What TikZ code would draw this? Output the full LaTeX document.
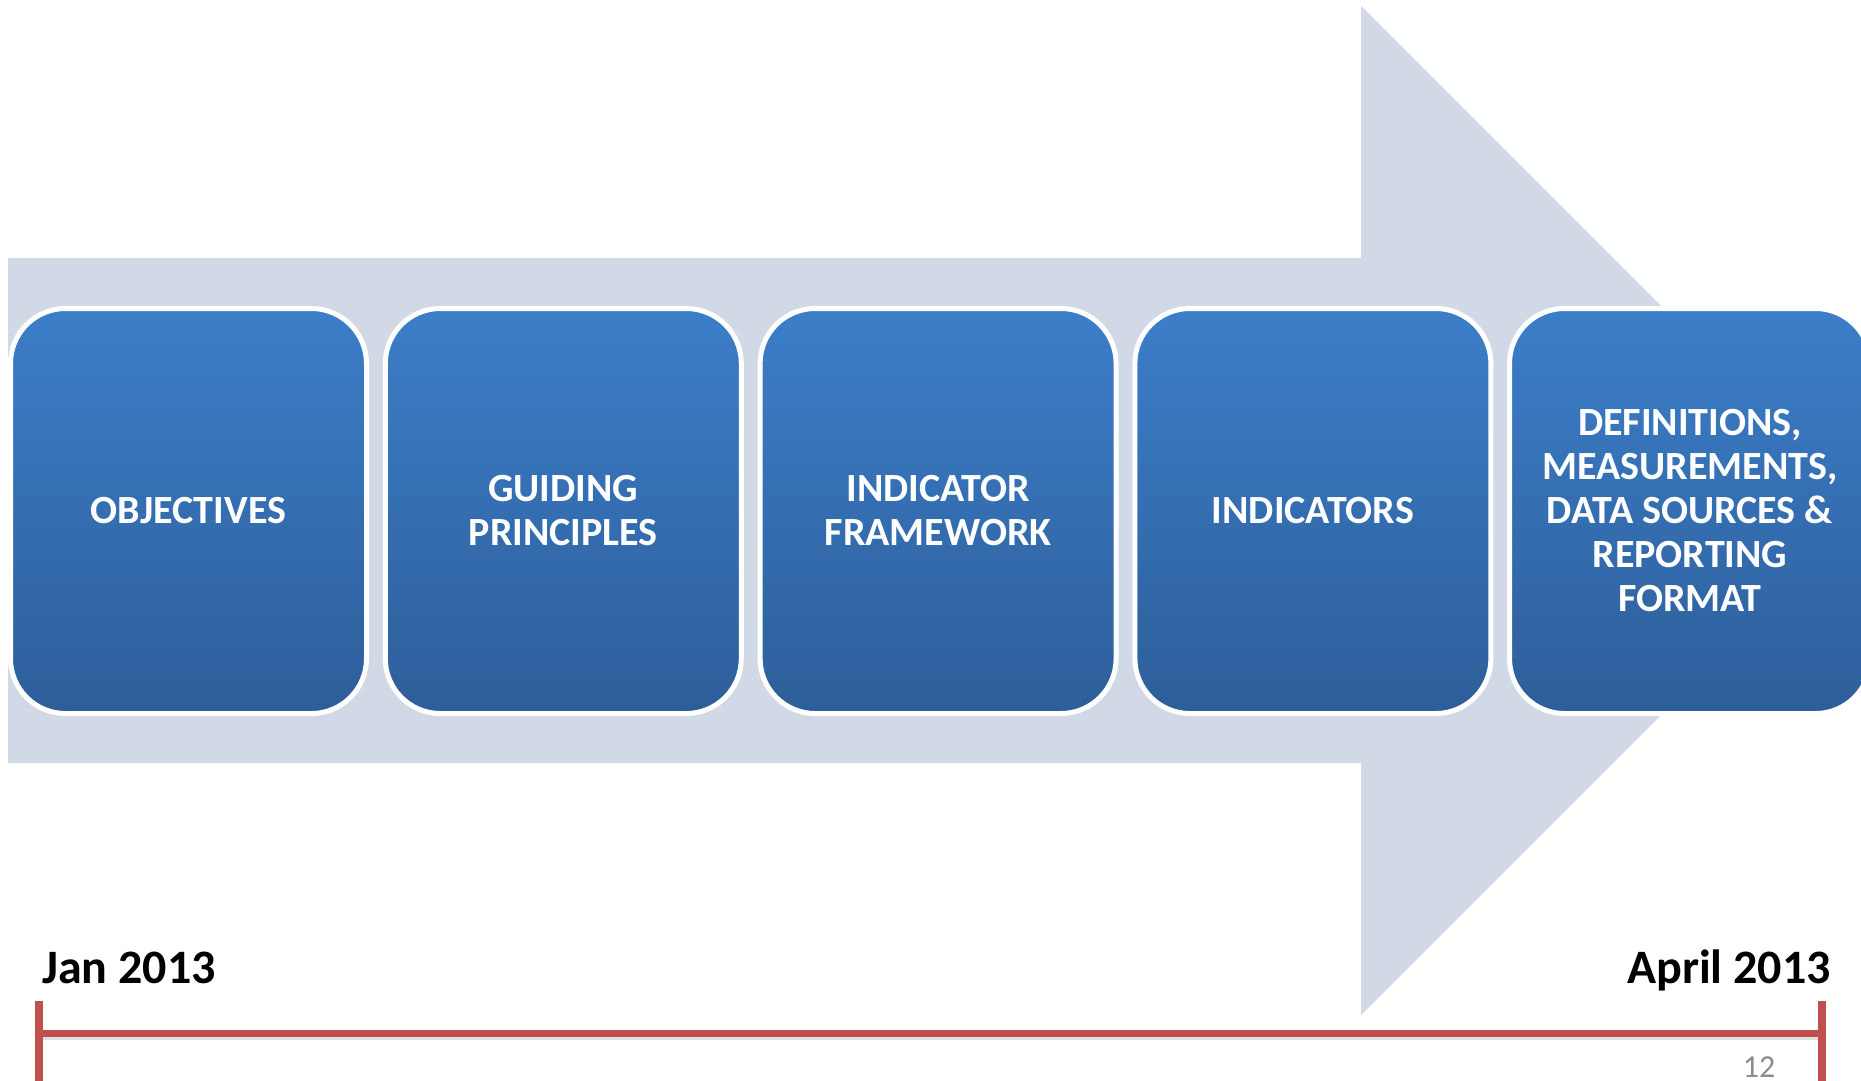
\documentclass[tikz,border=0pt]{standalone}
\usepackage{fontspec}
\setmainfont{Carlito}
\definecolor{arrowgray}{RGB}{209,217,231}
\definecolor{boxtop}{RGB}{60,126,201}
\definecolor{boxbot}{RGB}{45,94,153}
\definecolor{tlred}{RGB}{192,80,77}
\definecolor{pagegray}{RGB}{140,140,140}
\tikzset{
  stage/.style={draw=white, line width=5pt, rounded corners=55pt,
    top color=boxtop, bottom color=boxbot, minimum width=356pt,
    minimum height=405pt, inner sep=0pt, text=white, align=center,
    font=\fontsize{40}{44}\selectfont\bfseries},
  datelabel/.style={inner sep=0pt, font=\fontsize{48}{56}\selectfont\bfseries},
  tline/.style={tlred, line width=7pt},
  tlend/.style={tlred, line width=8pt}
}
\begin{document}
\begin{tikzpicture}[x=1pt,y=-1pt]
	\useasboundingbox (0,0) rectangle (1861,1080);
	\clip (0,0) rectangle (1861,1080);
	% big background arrow
	\fill[arrowgray] (8,258) -- (1361,258) -- (1361,6) -- (1865.5,510.5)
		-- (1361,1015) -- (1361,763) -- (8,763) -- cycle;
	% stages
	\node[stage] (obj) at (188.5,511) {OBJECTIVES};
	\node[stage] (guide) at (563.3,511) {GUIDING\\PRINCIPLES};
	\node[stage] (frame) at (938.1,511) {INDICATOR\\FRAMEWORK};
	\node[stage] (ind) at (1312.9,511) {INDICATORS};
	\node[stage, minimum width=361pt] (defs) at (1690,511)
		{DEFINITIONS,\\MEASUREMENTS,\\DATA SOURCES \&\\REPORTING\\FORMAT};
	% timeline
	\coordinate (tstart) at (39,1033);
	\coordinate (tend) at (1822,1033);
	\draw[black!12, line width=7pt] ([yshift=-3pt]tstart) -- ([yshift=-3pt]tend);
	\draw[tline] (tstart) -- (tend);
	\draw[tlend] ([yshift=32pt]tstart) -- ([yshift=-50pt]tstart);
	\draw[tlend] ([yshift=32pt]tend) -- ([yshift=-50pt]tend);
	\node[datelabel, anchor=base west] (jan) at (42,983) {Jan 2013};
	\node[datelabel, anchor=base east] (apr) at (1831,983) {April 2013};
	\node[inner sep=0pt, anchor=base, text=pagegray,
		font=\fontsize{32}{36}\selectfont] (pnum) at (1759,1077) {12};
\end{tikzpicture}
\end{document}
